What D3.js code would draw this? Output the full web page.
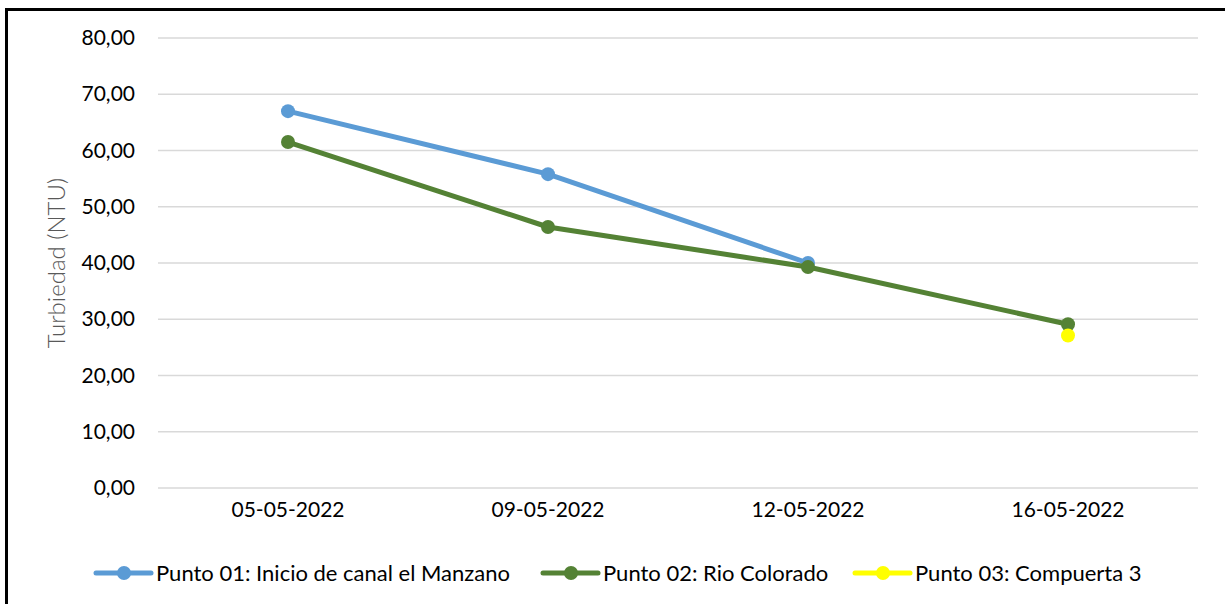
<!DOCTYPE html>
<html lang="es">
<head>
<meta charset="utf-8">
<title>Turbiedad</title>
<script src="https://d3js.org/d3.v7.min.js"></script>
<style>
  body { margin: 0; background: #fff; }
  text { font-family: Lato, "Open Sans", sans-serif; }
</style>
</head>
<body>
<div id="chart"></div>
<script>
var fechas = ["05-05-2022", "09-05-2022", "12-05-2022", "16-05-2022"];
var punto01 = [67.0, 55.8, 40.0, null];
var punto02 = [61.5, 46.4, 39.3, 29.1];
var punto03 = [null, null, null, 27.1];
var nombres = ["Punto 01: Inicio de canal el Manzano", "Punto 02: Rio Colorado", "Punto 03: Compuerta 3"];
var colores = ["#5B9BD5", "#548235", "#FFFF00"];
var yTicks = [0, 10, 20, 30, 40, 50, 60, 70, 80];

var W = 1225, H = 604;
var margin = {top: 38, right: 27, bottom: 116, left: 158};
var width = W - margin.left - margin.right,
    height = H - margin.top - margin.bottom;

var svg = d3.select("#chart").append("svg")
    .attr("width", W).attr("height", H);

// marco
svg.append("line").attr("x1", 6.5).attr("x2", 6.5).attr("y1", 8).attr("y2", H)
    .attr("stroke", "#000").attr("stroke-width", 3);
svg.append("line").attr("x1", 5).attr("x2", W).attr("y1", 9.5).attr("y2", 9.5)
    .attr("stroke", "#000").attr("stroke-width", 3);

var g = svg.append("g").attr("transform", "translate(" + margin.left + "," + margin.top + ")");

var x = d3.scaleBand().domain(fechas).range([0, width]);
var y = d3.scaleLinear().domain([0, 80]).range([height, 0]);

var fmt = function(d) { return d3.format(".2f")(d).replace(".", ","); };

// rejilla
g.append("g").selectAll("line").data(yTicks).enter().append("line")
    .attr("x1", 0).attr("x2", width)
    .attr("y1", function(d) { return y(d); }).attr("y2", function(d) { return y(d); })
    .attr("stroke", "#d9d9d9").attr("stroke-width", 1.5);

var yAxis = g.append("g").call(d3.axisLeft(y).tickValues(yTicks).tickFormat(fmt).tickSize(0).tickPadding(23));
yAxis.select(".domain").remove();
yAxis.selectAll("text").attr("font-family", "Lato").attr("font-size", 21).attr("fill", "#000");

var xAxis = g.append("g").attr("transform", "translate(0," + height + ")")
    .call(d3.axisBottom(x).tickSize(0).tickPadding(14));
xAxis.select(".domain").remove();
xAxis.selectAll("text").attr("font-family", "Lato").attr("font-size", 21).attr("fill", "#000");

svg.append("text")
    .attr("transform", "translate(65," + (margin.top + height / 2) + ") rotate(-90)")
    .attr("text-anchor", "middle")
    .attr("font-size", 24).attr("font-weight", 300).attr("fill", "#595959")
    .text("Turbiedad (NTU)");

var series = [punto01, punto02, punto03];
var line = d3.line()
    .defined(function(d) { return d != null; })
    .x(function(d, i) { return x(fechas[i]) + x.bandwidth() / 2; })
    .y(function(d) { return y(d); });

series.forEach(function(s, k) {
    g.append("path").datum(s)
        .attr("fill", "none").attr("stroke", colores[k]).attr("stroke-width", 5)
        .attr("stroke-linejoin", "round").attr("stroke-linecap", "round")
        .attr("d", line);
    g.selectAll(null).data(s.map(function(v, i) { return {v: v, i: i}; }).filter(function(d) { return d.v != null; }))
        .enter().append("circle")
        .attr("cx", function(d) { return x(fechas[d.i]) + x.bandwidth() / 2; })
        .attr("cy", function(d) { return y(d.v); })
        .attr("r", 7).attr("fill", colores[k]);
});

// leyenda
var legendX = [96, 543, 855];
var leg = svg.append("g").attr("transform", "translate(0,573)");
nombres.forEach(function(n, k) {
    var it = leg.append("g").attr("transform", "translate(" + legendX[k] + ",0)");
    it.append("line").attr("x1", 0).attr("x2", 55).attr("stroke", colores[k])
        .attr("stroke-width", 5).attr("stroke-linecap", "round");
    it.append("circle").attr("cx", 28).attr("r", 7).attr("fill", colores[k]);
    it.append("text").attr("x", 60).attr("dy", "0.35em")
        .attr("font-size", 22).attr("fill", "#000").text(n);
});
</script>
</body>
</html>
